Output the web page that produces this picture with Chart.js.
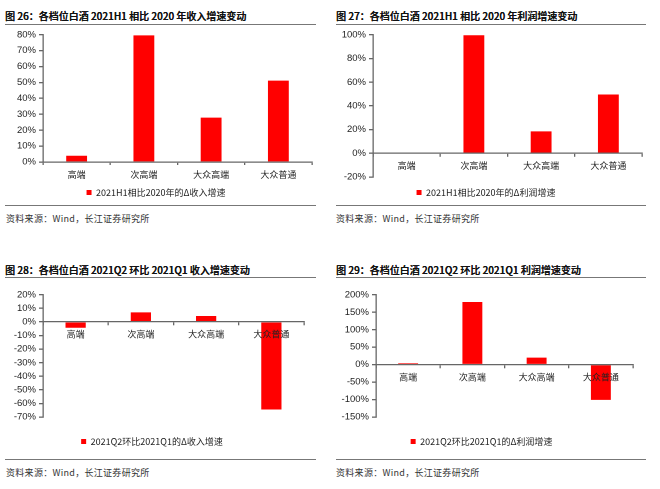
<!DOCTYPE html>
<html>
<head>
<meta charset="utf-8">
<script src="https://cdn.jsdelivr.net/npm/chart.js@4"></script>
<style>
  body { margin: 0; background: #fff; width: 660px; height: 489px; position: relative; overflow: hidden;
         font-family: "Noto Sans CJK SC", sans-serif; }
  .title { position: absolute; font-size: 10px; font-weight: 500; color: #111; white-space: nowrap; line-height: 12px;
           text-shadow: 0.2px 0 0 #111; }
  .rule { position: absolute; height: 0; border-top: 1.2px solid #777; }
  .src { position: absolute; font-size: 9px; color: #333; white-space: nowrap; line-height: 11px; letter-spacing: 0.3px; }
  canvas { position: absolute; }
</style>
</head>
<body>
<div class="title" style="left:5px;top:10px">图 26：各档位白酒 2021H1 相比 2020 年收入增速变动</div>
<div class="rule" style="left:5px;top:24px;width:311px"></div>
<div class="rule" style="left:5px;top:205px;width:311px"></div>
<div class="src" style="left:6px;top:213px">资料来源：Wind，长江证券研究所</div>

<div class="title" style="left:336px;top:10px">图 27：各档位白酒 2021H1 相比 2020 年利润增速变动</div>
<div class="rule" style="left:336px;top:24px;width:310px"></div>
<div class="rule" style="left:336px;top:205px;width:310px"></div>
<div class="src" style="left:336px;top:213px">资料来源：Wind，长江证券研究所</div>

<div class="title" style="left:5px;top:264px">图 28：各档位白酒 2021Q2 环比 2021Q1 收入增速变动</div>
<div class="rule" style="left:5px;top:277px;width:311px"></div>
<div class="rule" style="left:5px;top:459px;width:311px"></div>
<div class="src" style="left:6px;top:467px">资料来源：Wind，长江证券研究所</div>

<div class="title" style="left:336px;top:264px">图 29：各档位白酒 2021Q2 环比 2021Q1 利润增速变动</div>
<div class="rule" style="left:336px;top:277px;width:310px"></div>
<div class="rule" style="left:336px;top:459px;width:310px"></div>
<div class="src" style="left:336px;top:467px">资料来源：Wind，长江证券研究所</div>

<canvas id="c1" style="left:0;top:26px;width:330px;height:181px"></canvas>
<canvas id="c2" style="left:330px;top:26px;width:330px;height:181px"></canvas>
<canvas id="c3" style="left:0;top:286px;width:330px;height:170px"></canvas>
<canvas id="c4" style="left:330px;top:286px;width:330px;height:170px"></canvas>

<script>
const categories = ["高端", "次高端", "大众高端", "大众普通"];

const revenueH1 = [3.9, 79.6, 27.9, 51.1];
const profitH1 = [0, 99.5, 18.5, 49.6];
const revenueQ2 = [-4.3, 7.0, 4.3, -64.5];
const profitQ2 = [4, 179, 19.8, -101];

const legendRevenueH1 = "2021H1相比2020年的Δ收入增速";
const legendProfitH1 = "2021H1相比2020年的Δ利润增速";
const legendRevenueQ2 = "2021Q2环比2021Q1的Δ收入增速";
const legendProfitQ2 = "2021Q2环比2021Q1的Δ利润增速";

const tickFont = { family: "'Liberation Sans', Arial, sans-serif", size: 9.5 };
const catFont = { family: "'Noto Sans CJK SC', sans-serif", size: 9 };
const axisColor = "#666";
const textColor = "#222";

function makeChart(id, values, label, opts) {
  const canvas = document.getElementById(id);
  return new Chart(canvas, {
    type: "bar",
    data: {
      labels: categories,
      datasets: [{
        label: label,
        data: values,
        backgroundColor: "#ff0000",
        borderWidth: 0,
        barPercentage: 0.31,
        categoryPercentage: 1
      }]
    },
    options: {
      responsive: false,
      animation: false,
      devicePixelRatio: 2,
      layout: { padding: opts.padding },
      plugins: {
        tooltip: { enabled: false },
        legend: {
          position: "bottom",
          labels: {
            boxWidth: 5,
            boxHeight: 5,
            padding: opts.legendPad,
            color: textColor,
            font: catFont
          }
        }
      },
      scales: {
        x: {
          position: opts.zeroAxis ? { y: 0 } : "bottom",
          afterFit: opts.zeroAxis ? undefined : (s) => { s.height = 20; },
          border: { color: axisColor, width: 1.3, z: 1 },
          grid: { drawOnChartArea: false, tickLength: 3, color: axisColor, lineWidth: 1.3, z: 1 },
          ticks: { color: textColor, font: catFont, padding: 4, maxRotation: 0, autoSkip: false, z: 1 }
        },
        y: {
          min: opts.min,
          max: opts.max,
          afterFit: (s) => { s.width = opts.yWidth; },
          border: { color: axisColor, width: 1.3 },
          grid: { drawOnChartArea: false, tickLength: 4, color: axisColor, lineWidth: 1.3 },
          ticks: {
            stepSize: opts.step,
            autoSkip: false,
            color: textColor,
            font: tickFont,
            padding: 3,
            callback: (v) => v + "%"
          }
        }
      }
    }
  });
}

function sizeCanvas(id) {
  const c = document.getElementById(id);
  c.width = parseFloat(c.style.width);
  c.height = parseFloat(c.style.height);
}
["c1", "c2", "c3", "c4"].forEach(sizeCanvas);

makeChart("c1", revenueH1, legendRevenueH1,
  { min: 0, max: 80, step: 10, yWidth: 43, legendPad: 6, zeroAxis: false,
    padding: { top: 6, right: 18, bottom: 0, left: 0 } });
makeChart("c2", profitH1, legendProfitH1,
  { min: -20, max: 100, step: 20, yWidth: 43, legendPad: 11, zeroAxis: true,
    padding: { top: 6, right: 18, bottom: 0, left: 0 } });
makeChart("c3", revenueQ2, legendRevenueQ2,
  { min: -70, max: 20, step: 10, yWidth: 43, legendPad: 20, zeroAxis: true,
    padding: { top: 7, right: 26, bottom: 0, left: 0 } });
makeChart("c4", profitQ2, legendProfitQ2,
  { min: -150, max: 200, step: 50, yWidth: 46, legendPad: 20, zeroAxis: true,
    padding: { top: 7, right: 27, bottom: 0, left: 0 } });
</script>
</body>
</html>
